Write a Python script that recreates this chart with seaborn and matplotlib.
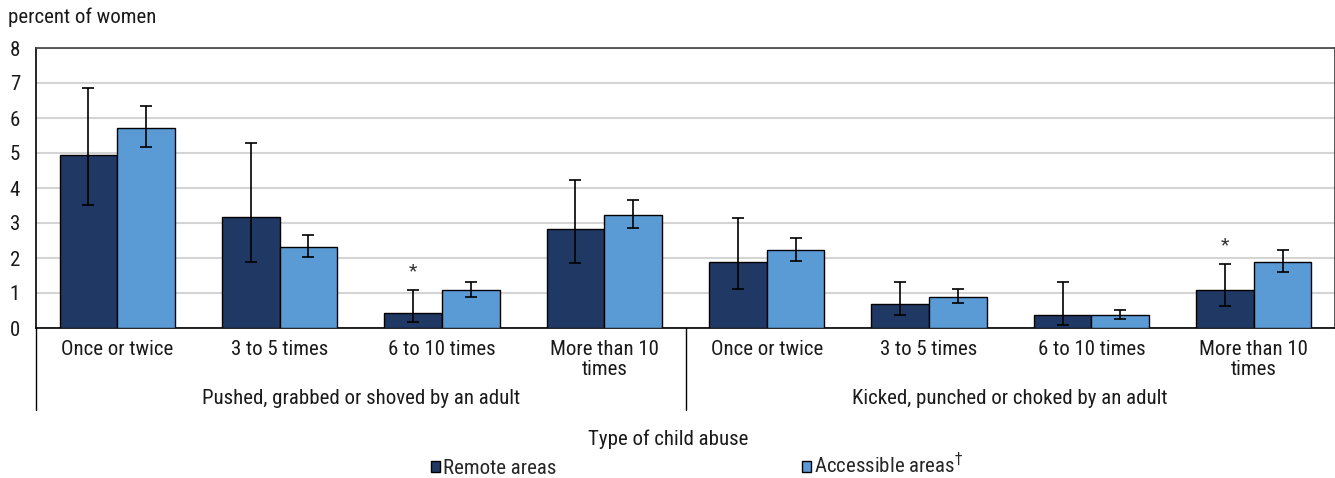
import matplotlib
matplotlib.use("Agg")
import matplotlib.pyplot as plt
from matplotlib import font_manager
from matplotlib.transforms import blended_transform_factory
import numpy as np
import pandas as pd
import seaborn as sns

# --- data -----------------------------------------------------------------
abuse_types = ["Pushed, grabbed or shoved by an adult",
               "Kicked, punched or choked by an adult"]
frequencies = ["Once or twice", "3 to 5 times", "6 to 10 times", "More than 10\ntimes"]
series_names = ["Remote areas", "Accessible areas$^{\\dagger}$"]

remote_values = [4.94, 3.17, 0.43, 2.83, 1.88, 0.69, 0.37, 1.09]
remote_low = [3.51, 1.89, 0.17, 1.86, 1.11, 0.36, 0.09, 0.64]
remote_high = [6.86, 5.29, 1.09, 4.23, 3.13, 1.31, 1.31, 1.83]

accessible_values = [5.71, 2.31, 1.09, 3.23, 2.22, 0.89, 0.38, 1.89]
accessible_low = [5.17, 2.03, 0.89, 2.86, 1.91, 0.71, 0.27, 1.60]
accessible_high = [6.34, 2.66, 1.31, 3.66, 2.58, 1.12, 0.52, 2.24]

# significant difference flag for remote areas
remote_flag = [False, False, True, False, False, False, False, True]

y_ticks = [0, 1, 2, 3, 4, 5, 6, 7, 8]

# --- styling ----------------------------------------------------------------
sns.set_theme(style="white")
available = {f.name for f in font_manager.fontManager.ttflist}
family = [f for f in ["Liberation Sans Narrow", "Roboto Condensed", "Liberation Sans"]
          if f in available] + ["DejaVu Sans"]
plt.rcParams["font.family"] = family
plt.rcParams["mathtext.fontset"] = "dejavusans"

dark = "#203864"
light = "#5b9bd5"
text_color = "#1a1a1a"
fs = 15

# --- tidy table -------------------------------------------------------------
slots = list(range(len(abuse_types) * len(frequencies)))
slot_labels = [f for _ in abuse_types for f in frequencies]
rows = []
for s in slots:
    rows.append({"slot": s, "area": series_names[0], "value": remote_values[s]})
    rows.append({"slot": s, "area": series_names[1], "value": accessible_values[s]})
df = pd.DataFrame(rows)

fig = plt.figure(figsize=(13.35, 4.78), dpi=100)
ax = fig.add_axes([36 / 1335, 150 / 478, 1299 / 1335, 280 / 478])

sns.barplot(data=df, x="slot", y="value", hue="area", order=slots,
            hue_order=series_names, palette=[dark, light], saturation=1,
            width=0.71, edgecolor="black", linewidth=1.0, errorbar=None,
            ax=ax, zorder=3)

# error bars and significance markers on top of each bar
lows = [remote_low, accessible_low]
highs = [remote_high, accessible_high]
vals = [remote_values, accessible_values]
bar_containers = list(ax.containers)
for k, container in enumerate(bar_containers):
    xs = [p.get_x() + p.get_width() / 2 for p in container.patches]
    v = np.array(vals[k])
    lo = v - np.array(lows[k])
    hi = np.array(highs[k]) - v
    ax.errorbar(xs, v, yerr=[lo, hi], fmt="none", ecolor="black",
                elinewidth=1.2, capsize=4, capthick=1.2, zorder=4)
    if k == 0:
        for x, h, flag in zip(xs, highs[k], remote_flag):
            if flag:
                ax.text(x, h + 0.28, "*", ha="center", va="bottom",
                        fontsize=14, color="#333333")

# axes
ax.set_xlim(-0.5, len(slots) - 0.5)
ax.set_ylim(0, 8)
ax.set_yticks(y_ticks)
ax.set_yticklabels([str(t) for t in y_ticks])
ax.yaxis.grid(True, color="#d4d4d4", linewidth=1.5, zorder=0)
ax.set_axisbelow(True)
ax.tick_params(axis="y", length=0, pad=11.5, labelsize=fs, labelcolor=text_color)
ax.set_xticks(slots)
ax.set_xticklabels(slot_labels, linespacing=1.08)
ax.tick_params(axis="x", length=0, pad=8.5, labelsize=fs, labelcolor=text_color)
ax.set_xlabel("")
ax.set_ylabel("")
for side in ["left", "bottom"]:
    ax.spines[side].set_color("black")
    ax.spines[side].set_linewidth(1.2)
ax.spines["top"].set_color("#404040")
ax.spines["top"].set_linewidth(1.2)
ax.spines["right"].set_color("#404040")

# group separators and group labels below the category labels
trans = blended_transform_factory(ax.transData, ax.transAxes)
for xb in [-0.5, 3.5]:
    ax.plot([xb, xb], [0, -0.293], transform=trans, color="black",
            linewidth=1.0, clip_on=False)
for g, name in enumerate(abuse_types):
    center = g * len(frequencies) + (len(frequencies) - 1) / 2
    ax.text(center, -0.253, name, transform=trans, ha="center", va="center",
            fontsize=fs, color=text_color)

fig.text(668 / 1335, 1 - 439 / 478, "Type of child abuse", ha="center",
         va="center", fontsize=fs, color=text_color)
fig.text(8 / 1335, 1 - 17 / 478, "percent of women", ha="left", va="center",
         fontsize=fs, color=text_color)

sns.move_legend(ax, "center", bbox_to_anchor=(0.522, 1 - 465 / 478),
                bbox_transform=fig.transFigure, ncol=2, frameon=False,
                title=None, fontsize=fs, handlelength=0.45, handleheight=0.45,
                handletextpad=0.12, columnspacing=11.8)

fig.savefig("out.png", dpi=100)
